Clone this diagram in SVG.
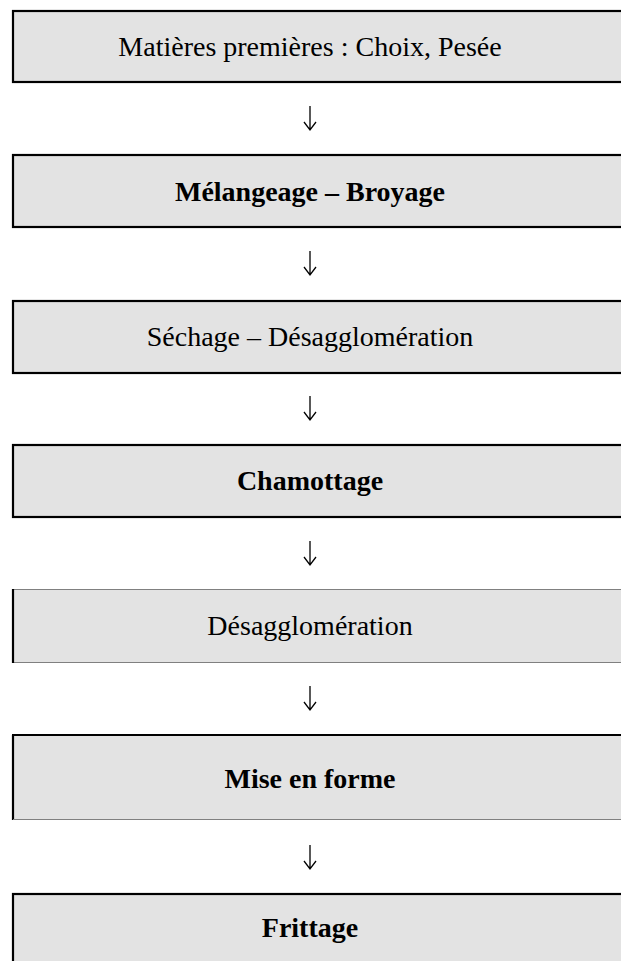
<svg xmlns="http://www.w3.org/2000/svg" width="621" height="961" viewBox="0 0 621 961">
<style>
.box{fill:#e3e3e3;stroke:#000;stroke-width:2.2}
.fill{fill:#e3e3e3}
.blk{stroke:#000;stroke-width:2.2;fill:none}
.gry{stroke:#808080;stroke-width:1.2;fill:none}
.t{font-family:"Liberation Serif","Times New Roman",serif;font-size:28px;fill:#000;text-anchor:middle}
.b{font-weight:bold}
.arr{stroke:#000;stroke-width:1.3;fill:none}
</style>
<rect width="621" height="961" fill="#fff"/>
<g id="connectors">
<path class="arr" d="M310 106V130M304 122L310 130L316 122"/>
<path class="arr" d="M310 251V275M304 267L310 275L316 267"/>
<path class="arr" d="M310 396V420M304 412L310 420L316 412"/>
<path class="arr" d="M310 541V565M304 557L310 565L316 557"/>
<path class="arr" d="M310 686V710M304 702L310 710L316 702"/>
<path class="arr" d="M310 845V869M304 861L310 869L316 861"/>
</g>
<g id="n1"><rect class="box" x="13" y="11" width="620" height="71"/><text class="t" x="310" y="56">Matières premières : Choix, Pesée</text></g>
<g id="n2"><rect class="box" x="13" y="155" width="620" height="72"/><text class="t b" x="310" y="201">Mélangeage – Broyage</text></g>
<g id="n3"><rect class="box" x="13" y="301" width="620" height="72"/><text class="t" x="310" y="346">Séchage – Désagglomération</text></g>
<g id="n4"><rect class="box" x="13" y="445" width="620" height="72"/><text class="t b" x="310" y="490">Chamottage</text></g>
<g id="n5"><rect class="fill" x="13" y="589" width="620" height="74"/><path class="gry" d="M13 589.5H633M13 662.5H633"/><path class="blk" d="M13 589V663"/><text class="t" x="310" y="635">Désagglomération</text></g>
<g id="n6"><rect class="fill" x="13" y="735" width="620" height="85"/><path class="blk" d="M12 735H633M13 735V820"/><path class="gry" d="M13 819.5H633"/><text class="t b" x="310" y="788">Mise en forme</text></g>
<g id="n7"><rect class="box" x="13" y="894" width="620" height="80"/><text class="t b" x="310" y="937">Frittage</text></g>
</svg>
